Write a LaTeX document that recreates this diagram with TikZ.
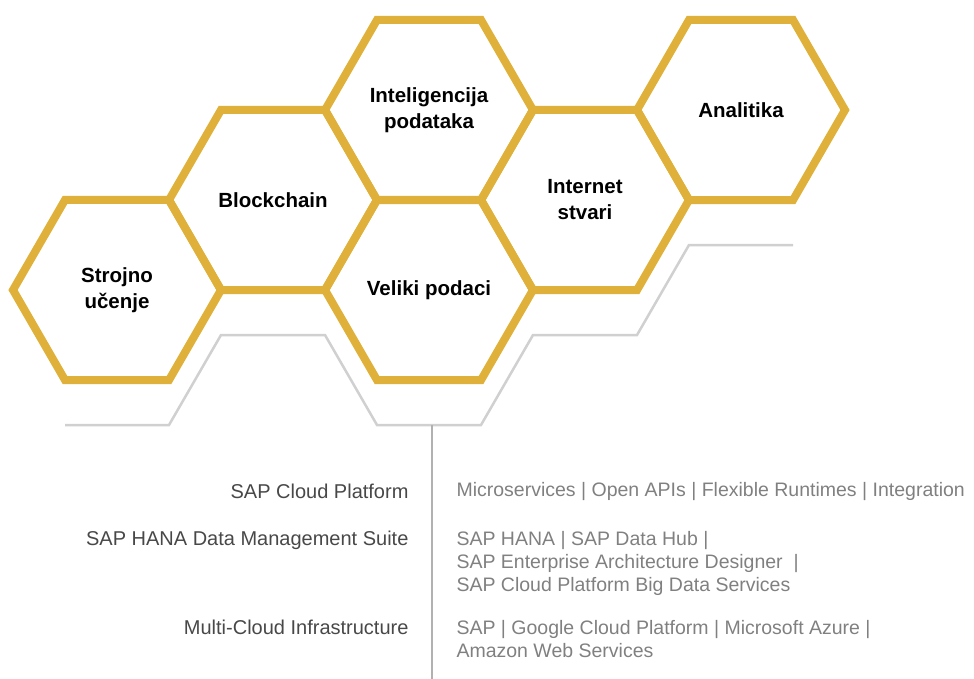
\documentclass[tikz,border=0pt]{standalone}
\usepackage{fontspec}
\setmainfont{Liberation Sans}
\usetikzlibrary{shapes.geometric}
\definecolor{honey}{HTML}{E0B13A}
\definecolor{shadowgray}{HTML}{D0D0D0}
\definecolor{labelgray}{HTML}{484848}
\definecolor{itemgray}{HTML}{808080}

\begin{document}
\begin{tikzpicture}[x=1pt, y=-1pt,
    hexcell/.style={regular polygon, regular polygon sides=6,
        minimum size=208pt, inner sep=0pt, draw=honey, line width=8pt, align=center,
        font=\fontsize{20.5}{26}\selectfont\bfseries},
    leftlabel/.style={anchor=east, text=labelgray, font=\fontsize{20}{23}\selectfont},
    rightlabel/.style={anchor=west, align=left, text=itemgray, font=\fontsize{19.5}{23}\selectfont}]
    \useasboundingbox (0,0) rectangle (974,679);
    % shadow outline under the honeycomb
    \draw[shadowgray, line width=2.5pt] (65,425) -- (169,425) -- (221,335) -- (325,335) -- (377,425)
        -- (481,425) -- (533,335) -- (637,335) -- (689,245) -- (793,245);
    \coordinate (split) at (432,425);
    \coordinate (splitend) at (432,679);
    \draw[shadowgray!85!black, line width=1.5pt] (split) -- (splitend);
    % honeycomb
    \node[hexcell] (ml) at (117,290) {Strojno\\u\v{c}enje};
    \node[hexcell] (bc) at (273,200) {Blockchain};
    \node[hexcell] (di) at (429,110) {Inteligencija\\podataka};
    \node[hexcell] (bd) at (429,290) {Veliki podaci};
    \node[hexcell] (iot) at (585,200) {Internet\\stvari};
    \node[hexcell] (an) at (741,110) {Analitika};
    % platform table
    \node[leftlabel] (cp) at (412,491) {SAP Cloud Platform};
    \node[leftlabel] (hana) at (412,540) {SAP HANA Data Management Suite};
    \node[leftlabel] (mc) at (412,627) {Multi-Cloud Infrastructure};
    \node[rightlabel] (cpitems) at (453,491) {Microservices | Open APIs | Flexible Runtimes | Integration};
    \node[rightlabel] (hanaitems) at (453,563) {SAP HANA | SAP Data Hub |\\SAP Enterprise Architecture Designer ~|\\SAP Cloud Platform Big Data Services};
    \node[rightlabel] (mcitems) at (453,639) {SAP | Google Cloud Platform | Microsoft Azure |\\Amazon Web Services};
\end{tikzpicture}
\end{document}
